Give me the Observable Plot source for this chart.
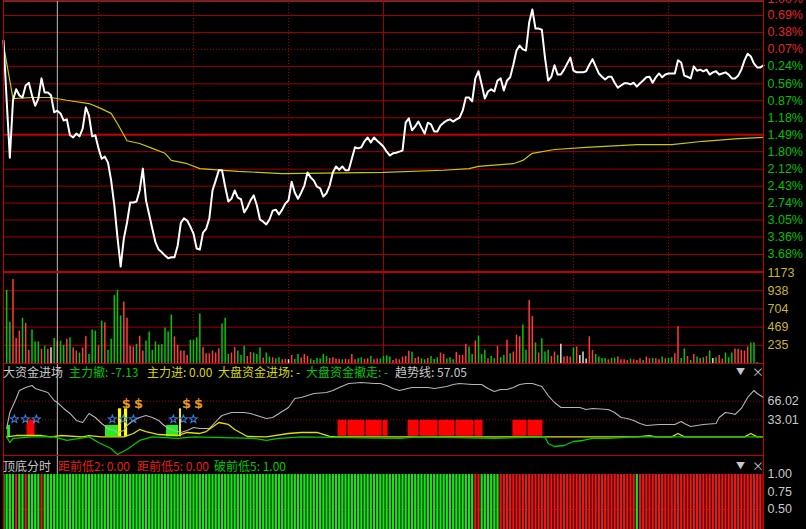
<!DOCTYPE html>
<html><head><meta charset="utf-8">
<script src="https://cdn.jsdelivr.net/npm/d3@7"></script>
<script src="https://cdn.jsdelivr.net/npm/@observablehq/plot@0.6"></script>
<style>
html,body{margin:0;padding:0;background:#000;}
#root{position:relative;width:806px;height:529px;overflow:hidden;background:#000;font-family:"Noto Sans CJK SC","Liberation Sans",sans-serif;}
.panel{position:absolute;left:0;}
.panel svg{display:block;}
.hdr{position:absolute;left:0;width:806px;height:15px;font-size:12px;line-height:15px;white-space:nowrap;}
.hdr span{position:absolute;top:0;white-space:nowrap;}
</style></head>
<body><div id="root"></div>
<script>
// ---------------- DATA ----------------
// Intraday price, % change from previous close, minute 0..240
const pricePct = [
0.23,-0.86,-1.91,-0.86,-0.66,-0.77,-0.81,-0.59,-0.54,-0.77,
-0.96,-0.83,-0.46,-0.72,-0.72,-0.77,-1.08,-1.05,-1.10,-1.23,
-1.21,-1.50,-1.54,-1.47,-1.52,-1.38,-0.99,-1.14,-1.52,-1.50,
-1.74,-1.93,-1.89,-2.00,-2.33,-2.78,-3.37,-3.90,-3.39,-3.10,
-2.73,-2.73,-2.71,-2.51,-2.11,-2.69,-2.95,-3.21,-3.46,-3.59,
-3.64,-3.70,-3.75,-3.73,-3.73,-3.52,-3.10,-3.02,-3.06,-3.17,
-3.30,-3.57,-3.59,-3.28,-3.21,-3.02,-2.51,-2.33,-2.14,-2.14,
-2.44,-2.71,-2.66,-2.51,-2.64,-2.67,-2.91,-2.82,-2.69,-2.60,
-2.78,-3.04,-3.08,-3.13,-3.04,-2.88,-2.86,-2.95,-2.86,-2.75,
-2.69,-2.35,-2.55,-2.66,-2.55,-2.42,-2.18,-2.27,-2.33,-2.44,
-2.47,-2.62,-2.56,-2.42,-2.18,-2.07,-2.13,-2.07,-2.14,-2.14,
-1.93,-1.72,-1.74,-1.72,-1.61,-1.54,-1.63,-1.54,-1.60,-1.65,
-1.71,-1.80,-1.87,-1.83,-1.82,-1.80,-1.78,-1.27,-1.19,-1.41,
-1.34,-1.25,-1.36,-1.47,-1.27,-1.30,-1.43,-1.43,-1.32,-1.27,
-1.23,-1.21,-1.25,-1.21,-1.18,-1.05,-0.81,-0.81,-0.88,-0.46,
-0.33,-0.57,-0.83,-0.70,-0.66,-0.70,-0.50,-0.46,-0.68,-0.50,
-0.44,-0.21,0.05,0.14,0.07,0.05,0.56,0.80,0.45,0.45,
0.43,-0.08,-0.50,-0.43,-0.22,-0.39,-0.39,-0.30,-0.19,-0.08,
-0.32,-0.35,-0.35,-0.35,-0.33,-0.21,-0.11,-0.24,-0.37,-0.43,
-0.48,-0.43,-0.43,-0.54,-0.63,-0.59,-0.55,-0.55,-0.57,-0.54,
-0.61,-0.55,-0.50,-0.44,-0.43,-0.54,-0.44,-0.37,-0.44,-0.39,
-0.37,-0.37,-0.37,-0.13,-0.17,-0.41,-0.43,-0.46,-0.24,-0.32,
-0.30,-0.33,-0.30,-0.39,-0.35,-0.33,-0.39,-0.37,-0.35,-0.39,
-0.46,-0.46,-0.41,-0.30,-0.13,-0.01,-0.06,-0.19,-0.26,-0.26,-0.22];

// Average price line
const avgMin = [0,3,9,15,20,27,30,34,36,39,43,47,51,53,58,62,74,88,120,139,147,150,161,164,167,174,184,200,211,221,232,240];
const avgPct = [0.15,-0.83,-0.81,-0.81,-0.86,-0.92,-0.99,-1.10,-1.29,-1.60,-1.65,-1.74,-1.83,-1.96,-2.02,-2.11,-2.16,-2.20,-2.18,-2.14,-2.11,-2.07,-2.02,-1.96,-1.83,-1.76,-1.72,-1.67,-1.67,-1.61,-1.56,-1.54];

const priceTicks = [1.00,0.69,0.38,0.07,-0.24,-0.56,-0.87,-1.18,-1.49,-1.80,-2.12,-2.43,-2.74,-3.05,-3.36,-3.68];

// Volume per minute (minute 1..238), direction R=up, G=down, W=flat
const volume = [
944,531,1083,322,418,583,518,170,431,278,
278,183,222,183,204,322,287,287,235,313,
331,200,161,135,200,344,117,431,418,226,
548,526,170,313,874,944,613,792,583,222,
213,248,352,161,291,405,170,278,239,244,
457,405,626,344,235,161,161,104,300,300,
331,639,204,126,126,161,135,191,509,583,
117,135,204,161,104,222,91,144,135,117,
204,70,135,83,74,61,74,48,52,48,
104,52,117,70,117,91,57,39,65,57,
117,91,65,74,57,52,48,57,48,117,
48,61,74,52,61,91,48,57,57,91,
100,83,39,57,48,83,91,157,144,65,
83,61,48,65,91,52,74,135,117,57,
74,48,144,104,104,248,213,117,291,352,
117,170,61,91,61,222,74,104,300,126,
148,365,344,496,170,813,605,265,135,318,
148,170,91,148,104,248,83,91,83,200,
213,104,148,57,344,170,117,83,65,65,
48,65,70,83,48,48,39,57,48,39,
61,39,83,61,65,61,48,83,61,65,
74,126,474,65,187,91,39,117,83,65,
74,91,161,65,74,104,57,135,74,135,
187,183,170,161,213,265,265,13];
const volDir = ("GGRRRGRRGG"+"GRGRWGRGGR"+"GRRGRRGGGR"+"GRGGGGGRRR"+"RGRRGGGGGG"+
 "GGGRRRRRGG"+"GGRRRRRRGG"+"GRRGGGRRGG"+"GRGGRGGRRW"+"RGGRRRGGGG"+
 "GGRRRRGRRR"+"RGGRRGRRGG"+"GGRRRRRRGR"+"RGGRGGGRRG"+"GGRRRRGGRG"+
 "GGRGGRGGRG"+"RRRGGRRGRG"+"GGRRGWRRRG"+"RWWWRRGGGG"+"RGGRRRRGRR"+
 "RGRRGRRGRG"+"GRRGGRGRGR"+"GRGWGRRGGG"+"RRRRRGGG").split("");
const volTicks = [235,469,704,938,1173];

// 大资金进场 indicator
const trendMin = [1,2,4,5,7,9,10,12,14,16,17,19,21,23,25,27,28,29,31,33,35,36,38,39,41,43,45,47,49,50,52,54,56,58,60,62,65,66,68,69,72,76,78,80,83,85,87,90,92,94,96,98,102,104,106,109,113,117,119,121,123,125,129,134,136,140,142,144,148,151,153,155,157,159,161,163,165,167,170,172,174,176,180,182,184,186,191,193,195,197,199,201,203,207,212,214,215,217,221,225,226,228,230,231,233,235,237,238,240];
const trendVal = [17.6,46.0,70.8,85.0,90.3,93.9,88.6,85.0,81.5,67.3,63.7,53.1,44.2,31.8,28.2,44.2,40.6,37.1,26.4,17.6,14.0,10.5,14.0,22.9,31.8,37.1,40.6,37.1,31.8,26.4,17.6,14.0,10.5,14.0,19.3,17.6,17.6,22.9,35.3,40.6,46.0,46.0,44.2,40.6,35.3,37.1,44.2,54.8,70.8,72.6,76.1,79.7,81.5,85.0,90.3,97.4,99.2,97.4,97.4,93.9,88.6,85.0,90.3,90.3,88.6,92.1,95.7,97.4,95.7,95.7,88.6,83.2,86.8,86.8,90.3,95.7,97.4,97.4,92.1,76.1,63.7,54.8,54.8,54.8,51.3,53.1,51.3,46.0,37.1,35.3,31.8,26.4,22.9,24.7,24.7,30.0,26.4,21.1,24.7,26.4,37.1,46.0,44.2,42.4,53.1,72.6,85.0,79.7,72.6];
const inMin = [1,4,12,15,18,25,27,31,38,41,43,45,49,55,58,62,64,68,71,73,77,83,90,94,99,103,105,200,204,206,211,213,215,234,236,238,240];
const inVal = [2.8,5.1,5.1,2.8,5.1,2.8,5.1,2.8,2.8,8.7,15.8,12.2,6.9,5.1,10.5,8.7,12.2,28.2,24.7,15.8,3.4,2.8,8.7,10.5,10.5,3.4,2.8,2.8,5.1,2.8,2.8,8.7,2.8,2.8,8.7,2.8,2.8];
const outMin = [1,2,3,9,16,20,24,27,30,34,36,39,43,47,55,60,79,83,87,94,125,131,155,171,172,174,177,180,183,186,191,199,240];
const outVal = [2.8,-7.3,0,2.8,2.8,-3.7,0,2.8,-7.3,-17.9,-28.6,-19.7,-3.7,2.8,0,2.8,0,-3.7,0,2.8,0,2.8,0,2.8,-9.1,-14.4,-12.6,-5.5,-3.7,0,0,2.8,2.8];
const redBlocks = [[7.3,10.1],[105.5,108.6],[108.6,114.3],[114.3,119.7],[119.7,121.6],[127.6,131.4],[131.4,137.4],[137.4,142.7],[142.7,148.7],[148.7,151.6],[160.7,165.5],[165.5,170.5]];
const redBlockTop = 33;
const greenBlocks = [[1.3,2.2],[32.2,36.3],[51.5,55.3]];
const greenBlockTop = 23;
const yellowBars = [[36.3,37.3],[38.2,39.2],[55.6,56.2]];
const yellowBarTop = 52.5;
const dollarMin = [38.8,42.6,57.8,61.6];
const dollarVal = 61.6;
const starMin = [3.5,6.9,10.4,34.4,37.9,41.0,53.7,56.8,60.0];
const starVal = 35;
const flowTicks = [33.01,66.02];

// 顶底分时 signal: red minute ranges, green otherwise
const sigRed = [[4,4],[7,7],[12,12],[149,150],[157,199],[201,240]];
const sigTicks = [1.00,0.75,0.50];

const halfHours = [30,60,90,150,180,210];
const noon = 120;
const cursorMinute = 17;

// ---------------- DRAW ----------------
const GRID = "#a00000", AXIS = "#c00000";
const root = document.getElementById("root");
const common = {
  width: 806, marginLeft: 3, marginRight: 43,
  x: {domain: [0, 240], axis: null},
  style: {background: "none", color: "#c0c0c0"}
};
function place(svg, top) {
  const d = document.createElement("div");
  d.className = "panel"; d.style.top = top + "px";
  d.appendChild(svg); root.appendChild(d);
}
const labelFont = {fontSize: 12.5, fontFamily: "Liberation Sans, Arial, sans-serif"};

// Panel A: price
const priceData = pricePct.map((p, m) => ({m, p}));
const avgData = avgMin.map((m, i) => ({m, p: avgPct[i]}));
place(Plot.plot({
  ...common, height: 272, marginTop: 0, marginBottom: 1,
  y: {domain: [-3.991, 0.964], axis: null},
  marks: [
    Plot.ruleY(priceTicks.filter(t => t !== 0.07 && t !== -1.49), {stroke: GRID}),
    Plot.ruleY([0.07], {stroke: GRID, strokeDasharray: "1,2"}),
    Plot.ruleY([-1.49], {stroke: "#c80000", strokeWidth: 2}),
    Plot.ruleY([0.964], {stroke: "#808080", strokeWidth: 2}),
    Plot.ruleX(halfHours, {stroke: GRID, strokeDasharray: "1,2"}),
    Plot.ruleX([noon], {stroke: GRID}),
    Plot.ruleX([cursorMinute], {stroke: "#bdbdbd"}),
    Plot.line(avgData, {x: "m", y: "p", stroke: "#c8c800", strokeWidth: 1.2}),
    Plot.line(priceData, {x: "m", y: "p", stroke: "#ffffff", strokeWidth: 2}),
    Plot.frame({stroke: AXIS}),
    Plot.text(priceTicks, {y: d => d, frameAnchor: "right", dx: 4, textAnchor: "start",
      text: d => Math.abs(d).toFixed(2) + "%", fill: d => d > 0 ? "#e02828" : "#00c000", ...labelFont})
  ]
}), 0);

// Panel B: volume
const volColor = {R: "#ff3c3c", G: "#00c800", W: "#e0e0e0"};
const volData = volume.map((v, i) => ({m: i + 1, v, c: volColor[volDir[i]]}));
place(Plot.plot({
  ...common, height: 102, marginTop: 10, marginBottom: 1,
  y: {domain: [0, 1173], axis: null},
  marks: [
    Plot.ruleY(volTicks, {stroke: GRID}),
    Plot.ruleX(halfHours, {stroke: GRID, strokeDasharray: "1,2"}),
    Plot.ruleX([noon], {stroke: GRID}),
    Plot.ruleX(volData, {x: "m", y1: 0, y2: "v", stroke: "c", strokeWidth: 1.5}),
    Plot.ruleX([cursorMinute], {stroke: "#bdbdbd"}),
    Plot.frame({stroke: AXIS}),
    Plot.text(volTicks, {y: d => d, frameAnchor: "right", dx: 4, textAnchor: "start",
      text: d => String(d), fill: "#c8b432", ...labelFont})
  ]
}), 262);

// Panel C: 大资金进场
const trendData = trendMin.map((m, i) => ({m, v: trendVal[i]}));
const inData = inMin.map((m, i) => ({m, v: inVal[i]}));
const outData = outMin.map((m, i) => ({m, v: outVal[i]}));
place(Plot.plot({
  ...common, height: 93, marginTop: 0, marginBottom: 1,
  y: {domain: [-30.35, 132.9], axis: null},
  marks: [
    Plot.ruleY(flowTicks, {stroke: GRID, strokeDasharray: "1,2"}),
    Plot.rectY(redBlocks, {x1: d => d[0], x2: d => d[1], y1: 2.8, y2: redBlockTop, fill: "#ff0000", inset: 0.5}),
    Plot.rectY(greenBlocks, {x1: d => d[0], x2: d => d[1], y1: 2.8, y2: greenBlockTop, fill: "#22ee22"}),
    Plot.rectY(yellowBars, {x1: d => d[0], x2: d => d[1], y1: 2.8, y2: yellowBarTop, fill: "#ffff00"}),
    Plot.ruleX([cursorMinute], {stroke: "#bdbdbd"}),
    Plot.line(trendData, {x: "m", y: "v", stroke: "#b4b4b4", strokeWidth: 1.1}),
    Plot.line(inData, {x: "m", y: "v", stroke: "#e0e000", strokeWidth: 1.3}),
    Plot.line(outData, {x: "m", y: "v", stroke: "#00c800", strokeWidth: 1.3}),
    Plot.text(starMin, {x: d => d, y: starVal, text: () => "☆", fill: "#3d8be0", fontSize: 12, fontWeight: "bold"}),
    Plot.text(dollarMin, {x: d => d, y: dollarVal, text: () => "$", fill: "#e8961e", fontSize: 13, fontWeight: "bold", fontFamily: "DejaVu Sans"}),
    Plot.frame({stroke: AXIS}),
    Plot.text(flowTicks, {y: d => d, frameAnchor: "right", dx: 4, textAnchor: "start",
      text: d => d.toFixed(2), fill: "#c8c8c8", ...labelFont})
  ]
}), 363);

// Panel D: 顶底分时
const sigData = d3.range(0, 241).map(m => ({m, c: sigRed.some(([a, b]) => m >= a && m <= b) ? "#f01414" : "#14e614"}));
place(Plot.plot({
  ...common, height: 74, marginTop: 0, marginBottom: 0,
  y: {domain: [0.214, 1.271], axis: null},
  marks: [
    Plot.ruleY([0.5], {stroke: GRID, strokeDasharray: "2,2"}),
    Plot.ruleX(sigData, {x: "m", y1: 0, y2: 1, stroke: "c", strokeWidth: 2.2, clip: true}),
    Plot.ruleX([cursorMinute], {y1: 1, y2: 1.271, stroke: "#bdbdbd"}),
    Plot.frame({stroke: AXIS}),
    Plot.text(sigTicks, {y: d => d, frameAnchor: "right", dx: 4, textAnchor: "start",
      text: d => d.toFixed(2), fill: "#c8c8c8", ...labelFont})
  ]
}), 455);

// Headers (indicator titles with current values)
function header(top, items) {
  const h = document.createElement("div");
  h.className = "hdr"; h.style.top = top + "px";
  for (const it of items) {
    const s = document.createElement("span");
    s.textContent = it.t; s.style.color = it.c; s.style.left = it.x + "px";
    if (it.fs) s.style.fontSize = it.fs + "px";
    h.appendChild(s);
  }
  root.appendChild(h);
}
header(364, [
  {t: "大资金进场", x: 3, c: "#c8c8c8"},
  {t: "主力撤: -7.13", x: 69, c: "#00c800"},
  {t: "主力进: 0.00", x: 147, c: "#d8d800"},
  {t: "大盘资金进场: -", x: 218, c: "#d8d800"},
  {t: "大盘资金撤走: -", x: 306, c: "#00c800"},
  {t: "趋势线: 57.05", x: 395, c: "#c8c8c8"},
  {t: "▼", x: 736, c: "#c8c8c8", fs: 9},
  {t: "×", x: 752, c: "#c8c8c8"}
]);
header(458, [
  {t: "顶底分时", x: 3, c: "#c8c8c8"},
  {t: "距前低2: 0.00", x: 58, c: "#e81c1c"},
  {t: "距前低5: 0.00", x: 137, c: "#e81c1c"},
  {t: "破前低5: 1.00", x: 214, c: "#00c800"},
  {t: "▼", x: 736, c: "#c8c8c8", fs: 9},
  {t: "×", x: 752, c: "#c8c8c8"}
]);
</script>
</body></html>
